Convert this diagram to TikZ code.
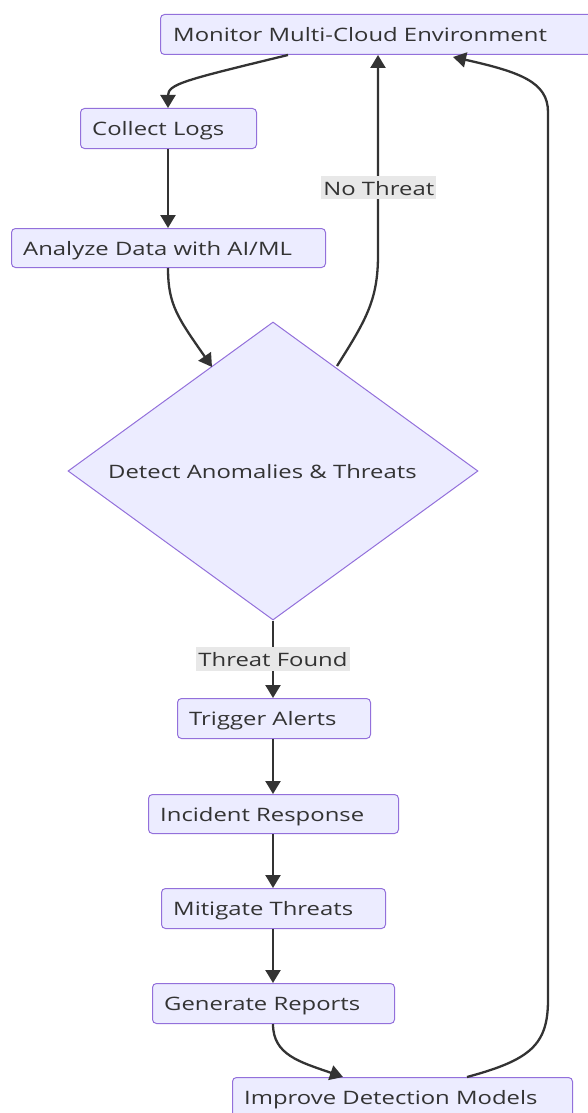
\documentclass[tikz,border=0pt]{standalone}
\usepackage{fontspec}
\setmainfont{Open Sans}[FakeStretch=1.29]
\usetikzlibrary{shapes.geometric,arrows.meta,calc}
\definecolor{boxfill}{HTML}{ECECFF}
\definecolor{boxline}{HTML}{9370DB}
\definecolor{ink}{HTML}{333333}
\definecolor{lblbg}{HTML}{E8E8E8}
\tikzset{
  stepbox/.style={draw=boxline, fill=boxfill, line width=1pt, rounded corners=4pt,
    anchor=north west, inner sep=0pt},
  steptext/.style={anchor=base west, text=ink, font=\fontsize{18.5}{22}\selectfont, inner sep=0pt},
  flow/.style={draw=ink, line width=2.3pt, -{Triangle[length=13pt,width=15pt]}},
  lbl/.style={fill=lblbg, text=ink, inner xsep=2pt, inner ysep=0pt, text height=19.3pt, text depth=4pt,
    font=\fontsize{18.5}{22}\selectfont}
}
\begin{document}
\begin{tikzpicture}[x=1pt,y=-1pt]
\useasboundingbox (0,0) rectangle (587,1113);
% process boxes
\node[stepbox, minimum width=440pt, minimum height=40pt] (mon) at (160,14) {};
\node[steptext] (montext) at (173,41.7) {Monitor Multi-Cloud Environment};
\node[stepbox, minimum width=176pt, minimum height=40pt] (logs) at (80,108) {};
\node[steptext] (logstext) at (92,135.7) {Collect Logs};
\node[stepbox, minimum width=314pt, minimum height=39pt] (ana) at (11,228) {};
\node[steptext] (anatext) at (23,255.2) {Analyze Data with AI/ML};
% decision
\node[diamond, draw=boxline, fill=boxfill, line width=1pt, minimum width=410pt, minimum height=298pt, inner sep=0pt] (det) at (273,471) {};
\node[steptext] (dettext) at (108,478) {Detect Anomalies \& Threats};
\node[stepbox, minimum width=193pt, minimum height=40pt] (trig) at (177,698) {};
\node[steptext] (trigtext) at (189,725.7) {Trigger Alerts};
\node[stepbox, minimum width=250pt, minimum height=39pt] (inc) at (148,794) {};
\node[steptext] (inctext) at (160,821.2) {Incident Response};
\node[stepbox, minimum width=224pt, minimum height=40pt] (mit) at (161,888) {};
\node[steptext] (mittext) at (173,915.7) {Mitigate Threats};
\node[stepbox, minimum width=242pt, minimum height=40pt] (gen) at (152,983) {};
\node[steptext] (gentext) at (164,1010.7) {Generate Reports};
\node[stepbox, minimum width=340pt, minimum height=42pt] (imp) at (232,1077) {};
\node[steptext] (imptext) at (244,1104.7) {Improve Detection Models};
% connectors
\draw[flow] ($(mon.south west)+(128,0)$) .. controls (185,80) and (168,84) .. ($(logs.north west)+(88,0)$);
\draw[flow] ($(logs.south west)+(88,0)$) -- ($(ana.north west)+(157,0)$);
\draw[flow] ($(ana.south west)+(157,0)$) .. controls (168,305) and (178,318) .. (212,367);
\draw[flow] (337,366) .. controls (366,320) and (378,300) .. (378,255) -- ($(mon.south west)+(218,0)$);
\draw[flow] (det.south) -- ($(trig.north west)+(96,0)$);
\draw[flow] ($(trig.south west)+(96,0)$) -- ($(inc.north west)+(125,0)$);
\draw[flow] ($(inc.south west)+(125,0)$) -- ($(mit.north west)+(112,0)$);
\draw[flow] ($(mit.south west)+(112,0)$) -- ($(gen.north west)+(121,0)$);
\draw[flow] ($(gen.south west)+(121,0)$) .. controls (273,1055) and (300,1062) .. ($(imp.north west)+(111,0)$);
\draw[flow] ($(imp.north west)+(235,0)$) .. controls (530,1060) and (548,1045) .. (548,1000)
  -- (548,112) .. controls (548,82) and (520,72) .. ($(mon.south west)+(293,2)$);
% edge labels
\node[lbl] (nothreat) at (378.8,187.7) {No Threat};
\node[lbl] (found) at (273,659) {Threat Found};
\end{tikzpicture}
\end{document}
